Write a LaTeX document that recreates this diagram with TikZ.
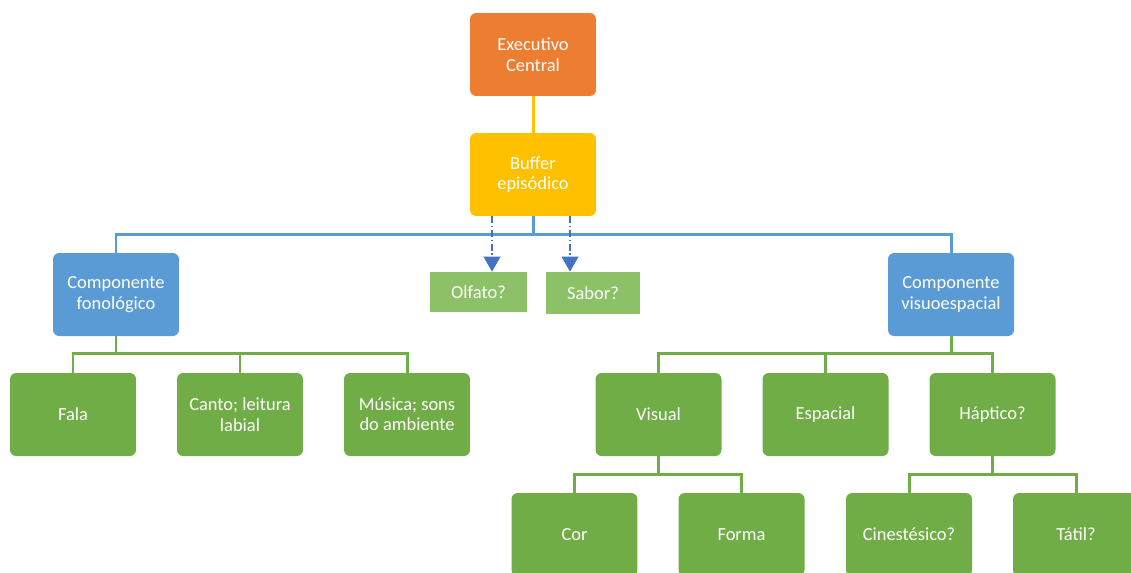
\documentclass[tikz,border=0pt]{standalone}
\usepackage{fontspec}
\setmainfont{Carlito}
\usetikzlibrary{arrows.meta}
\definecolor{laranja}{RGB}{237,125,49}
\definecolor{amarelo}{RGB}{255,192,0}
\definecolor{azul}{RGB}{91,155,213}
\definecolor{azulesc}{RGB}{68,114,196}
\definecolor{verde}{RGB}{112,173,71}
\definecolor{verdeclaro}{RGB}{140,193,104}
\tikzset{
  box/.style={rectangle, rounded corners=3.5pt, text=white, align=center,
    minimum width=2.52cm, minimum height=1.66cm, inner sep=1pt,
    font=\fontsize{10.5}{11.6}\selectfont},
  sbox/.style={rectangle, fill=verdeclaro, text=white, minimum height=0.8cm,
    font=\fontsize{10.5}{11.6}\selectfont},
  gline/.style={draw=verde, line width=1.7pt},
  bline/.style={draw=azul, line width=1.7pt},
  dline/.style={draw=azulesc, line width=0.8pt,
    dash pattern=on 4pt off 1.5pt on 0.8pt off 1.5pt,
    -{Triangle[width=9.5pt,length=8.5pt]}}
}

\begin{document}
\begin{tikzpicture}[x=0.02cm,y=-0.02cm]
    \useasboundingbox (0,0) rectangle (1131,572);
    \clip (0,0) rectangle (1131,572);
    % topo
    \node[box, fill=laranja] (exec) at (533,54.5) {Executivo\\Central};
    \node[box, fill=amarelo] (buffer) at (533,174.5) {Buffer\\episódico};
    \draw[draw=amarelo, line width=1.7pt] (exec) -- (buffer);
    % componentes
    \node[box, fill=azul] (fono) at (116,294.5) {Componente\\fonológico};
    \node[box, fill=azul] (visuo) at (951,294.5) {Componente\\visuoespacial};
    \node[sbox, minimum width=1.94cm] (olfato) at (478.5,292) {Olfato?};
    \node[sbox, minimum width=1.88cm, minimum height=0.84cm] (sabor) at (593,293) {Sabor?};
    \draw[bline] (buffer.south) -- ++(0,18) coordinate (bus);
    \draw[bline] (fono.north) |- (bus) -| (visuo.north);
    \coordinate (ol) at (492,0);
    \coordinate (sb) at (570,0);
    \draw[dline] (buffer.south -| ol) -- (olfato.north -| ol);
    \draw[dline] (buffer.south -| sb) -- (sabor.north -| sb);
    % fonologico
    \node[box, fill=verde] (fala) at (73,414.5) {Fala};
    \node[box, fill=verde] (canto) at (240,414.5) {Canto; leitura\\labial};
    \node[box, fill=verde] (musica) at (407,414.5) {Música; sons\\do ambiente};
    % visuoespacial
    \node[box, fill=verde] (visual) at (658.5,414.5) {Visual};
    \node[box, fill=verde] (espacial) at (825.5,414.5) {Espacial};
    \node[box, fill=verde] (haptico) at (992.5,414.5) {Háptico?};
    \node[box, fill=verde] (cor) at (574.5,534.5) {Cor};
    \node[box, fill=verde] (forma) at (741.5,534.5) {Forma};
    \node[box, fill=verde] (cinest) at (909,534.5) {Cinestésico?};
    \node[box, fill=verde] (tatil) at (1076,534.5) {Tátil?};
    \foreach \c in {fala,canto,musica}
      \draw[gline] (fono.south) -- ++(0,17.5) -| (\c.north);
    \foreach \c in {visual,espacial,haptico}
      \draw[gline] (visuo.south) -- ++(0,17.5) -| (\c.north);
    \foreach \c in {cor,forma}
      \draw[gline] (visual.south) -- ++(0,18) -| (\c.north);
    \foreach \c in {cinest,tatil}
      \draw[gline] (haptico.south) -- ++(0,18) -| (\c.north);
\end{tikzpicture}
\end{document}
